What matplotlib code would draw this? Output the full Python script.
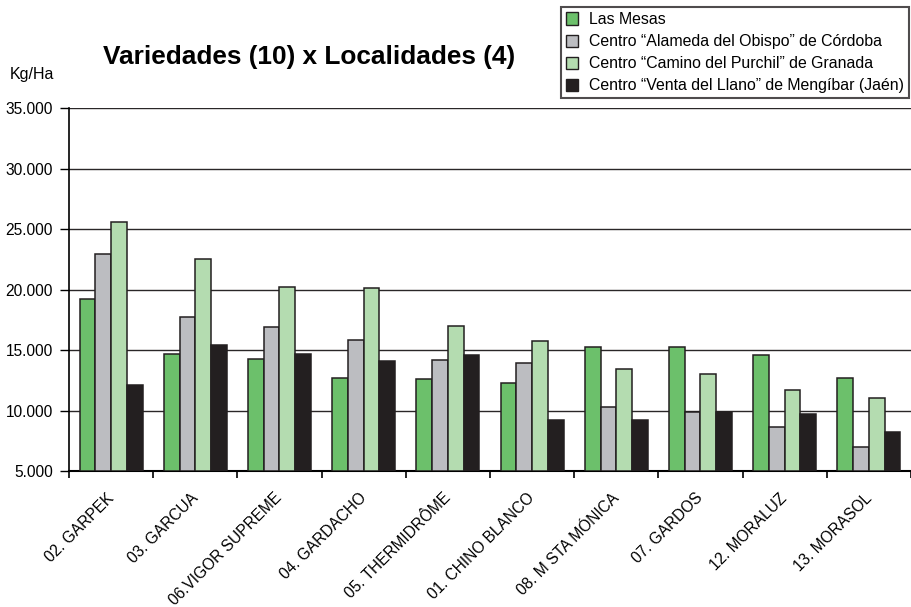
import numpy as np
import matplotlib.pyplot as plt
import matplotlib.transforms as mtransforms
from matplotlib.patches import Patch

plt.rcParams['font.family'] = ['Liberation Sans', 'DejaVu Sans']

variedades = ["02. GARPEK", "03. GARCUA", "06.VIGOR SUPREME", "04. GARDACHO",
              "05. THERMIDRÔME", "01. CHINO BLANCO", "08. M STA MÓNICA",
              "07. GARDOS", "12. MORALUZ", "13. MORASOL"]
localidades = ["Las Mesas",
               "Centro \u201cAlameda del Obispo\u201d de Córdoba",
               "Centro \u201cCamino del Purchil\u201d de Granada",
               "Centro \u201cVenta del Llano\u201d de Mengíbar (Jaén)"]
las_mesas = [19250, 14650, 14300, 12700, 12600, 12280, 15230, 15280, 14620, 12720]
cordoba = [22950, 17700, 16900, 15800, 14150, 13930, 10300, 9850, 8650, 6980]
granada = [25550, 22500, 20250, 20100, 17020, 15730, 13460, 13050, 11700, 11000]
mengibar = [12080, 15420, 14650, 14100, 14620, 9200, 9200, 9900, 9720, 8200]
series = [las_mesas, cordoba, granada, mengibar]
colores = ["#6cc06b", "#bcbdc1", "#b4dcb0", "#231f20"]

fig = plt.figure(figsize=(9.11, 6.07), dpi=100)
ax = fig.add_axes([0.0757, 0.224, 0.9243, 0.598])

x = np.arange(len(variedades))
w = 0.187
for i, (vals, c) in enumerate(zip(series, colores)):
    ax.bar(x + (i - 1.5) * w, np.array(vals) - 5000, w, bottom=5000, color=c,
           edgecolor="#231f20", linewidth=1.1, zorder=3)

ax.set_xlim(-0.5, len(variedades) - 0.5)
ax.set_ylim(5000, 35000)
ax.set_yticks(np.arange(5000, 35001, 5000))
ax.set_yticklabels(["5.000", "10.000", "15.000", "20.000", "25.000", "30.000", "35.000"], fontsize=11.2)
ax.yaxis.grid(True, color="#2a2728", linewidth=1.0, zorder=0)
ax.set_axisbelow(True)

ax.set_xticks(np.arange(len(variedades) + 1) - 0.5)
ax.set_xticklabels([])
ax.set_xticks(x, minor=True)
ax.set_xticklabels(variedades, minor=True, rotation=45, ha="right", va="top",
                   rotation_mode="anchor", fontsize=11.2)
ax.tick_params(axis="x", which="minor", length=0, pad=14)
ax.tick_params(axis="x", which="major", length=5, width=1.2, direction="out")
ax.tick_params(axis="y", length=6.5, width=1.0, direction="out", pad=5)

# shift the rotated labels a little to the left
shift = mtransforms.ScaledTranslation(-5 / 100, 0, fig.dpi_scale_trans)
for lab in ax.xaxis.get_minorticklabels():
    lab.set_transform(lab.get_transform() + shift)

for s in ["top", "right"]:
    ax.spines[s].set_visible(False)
ax.spines["left"].set_linewidth(1.2)
ax.spines["bottom"].set_linewidth(1.5)

fig.text(0.339, 0.906, "Variedades (10) x Localidades (4)", fontsize=18.9, fontweight="bold",
         ha="center", va="center")
fig.text(0.011, 0.878, "Kg/Ha", fontsize=11.5, ha="left", va="center")

handles = [Patch(facecolor=c, edgecolor="#231f20", linewidth=1.0) for c in colores]
leg = fig.legend(handles, localidades, loc="upper right", bbox_to_anchor=(0.998, 0.988),
                 fontsize=11.4, frameon=True, fancybox=False, edgecolor="#231f20",
                 handlelength=0.8, handleheight=0.8, handletextpad=0.7,
                 labelspacing=0.45, borderpad=0.3, borderaxespad=0)
leg.get_frame().set_linewidth(1.5)

fig.savefig("out.png", dpi=100)
